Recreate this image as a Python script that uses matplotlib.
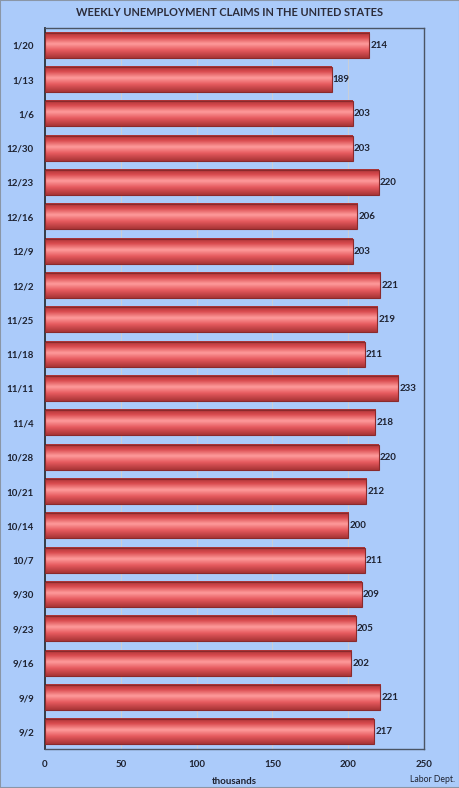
import matplotlib
matplotlib.use("Agg")
import matplotlib.pyplot as plt
from matplotlib.colors import LinearSegmentedColormap
from matplotlib.patches import Rectangle
import numpy as np

weeks = ["1/20", "1/13", "1/6", "12/30", "12/23", "12/16", "12/9", "12/2", "11/25",
         "11/18", "11/11", "11/4", "10/28", "10/21", "10/14", "10/7", "9/30", "9/23",
         "9/16", "9/9", "9/2"]
claims = [214, 189, 203, 203, 220, 206, 203, 221, 219, 211, 233, 218, 220, 212, 200,
          211, 209, 205, 202, 221, 217]
x_ticks = [0, 50, 100, 150, 200, 250]

BG = "#abcbfa"
TXT = "#1e2230"
plt.rcParams["font.family"] = ["Lato", "DejaVu Sans"]

fig = plt.figure(figsize=(4.6, 7.88), dpi=100, facecolor=BG)
ax = fig.add_axes([45 / 460, 39 / 788, 379 / 460, 721 / 788])
ax.set_facecolor(BG)

# 圆柱状渐变：上下暗红，中间偏上高光
bar_cmap = LinearSegmentedColormap.from_list(
    "cyl", [(0.0, "#a83436"), (0.2, "#d94a4e"), (0.45, "#ff9c9c"),
            (0.7, "#e65a5e"), (1.0, "#a83436")])
grad = np.linspace(0, 1, 64).reshape(-1, 1)

y = np.arange(len(weeks))
bars = ax.barh(y, claims, height=0.73, color="none", edgecolor="#8a2a2c",
               linewidth=0.8, zorder=3)
for b, v in zip(bars, claims):
    x0, y0, w, h = b.get_x(), b.get_y(), b.get_width(), b.get_height()
    ax.imshow(grad, cmap=bar_cmap, extent=[x0, x0 + w, y0 + h, y0],
              aspect="auto", zorder=2, interpolation="bicubic")
    ax.text(v + 0.8, y0 + h / 2, str(v), va="center", ha="left", fontsize=7,
            fontweight="bold", color=TXT, zorder=4)

ax.set_xlim(0, 250)
ax.set_ylim(len(weeks) - 0.5, -0.5)
ax.set_xticks(x_ticks)
ax.set_yticks(y)
ax.set_yticklabels(weeks)
ax.tick_params(length=0, labelsize=7, labelcolor=TXT, pad=8)
for lbl in ax.get_xticklabels() + ax.get_yticklabels():
    lbl.set_fontweight("bold")
ax.xaxis.grid(True, color="#c8ced8", linewidth=0.8, zorder=0)
ax.set_axisbelow(True)
for s in ax.spines.values():
    s.set_color("#4a5464")
    s.set_linewidth(1.0)
ax.spines["left"].set_linewidth(1.3)
ax.spines["left"].set_color("#2a303a")

ax.set_xlabel("thousands", fontsize=7, fontweight="bold", color=TXT, labelpad=6)
fig.text(0.5, 1 - 12 / 788, "WEEKLY UNEMPLOYMENT CLAIMS IN THE UNITED STATES",
         ha="center", va="center", fontsize=7.9, fontweight="bold", color="#2c2c3a")
fig.text(1 - 5 / 460, 1 - 780 / 788, "Labor Dept.", ha="right", va="center",
         fontsize=6.2, color=TXT)
fig.patches.append(Rectangle((0, 0), 1, 1, transform=fig.transFigure, fill=False,
                             edgecolor="#8a96a6", linewidth=1.5))

fig.savefig("out.png", dpi=100, facecolor=BG)
